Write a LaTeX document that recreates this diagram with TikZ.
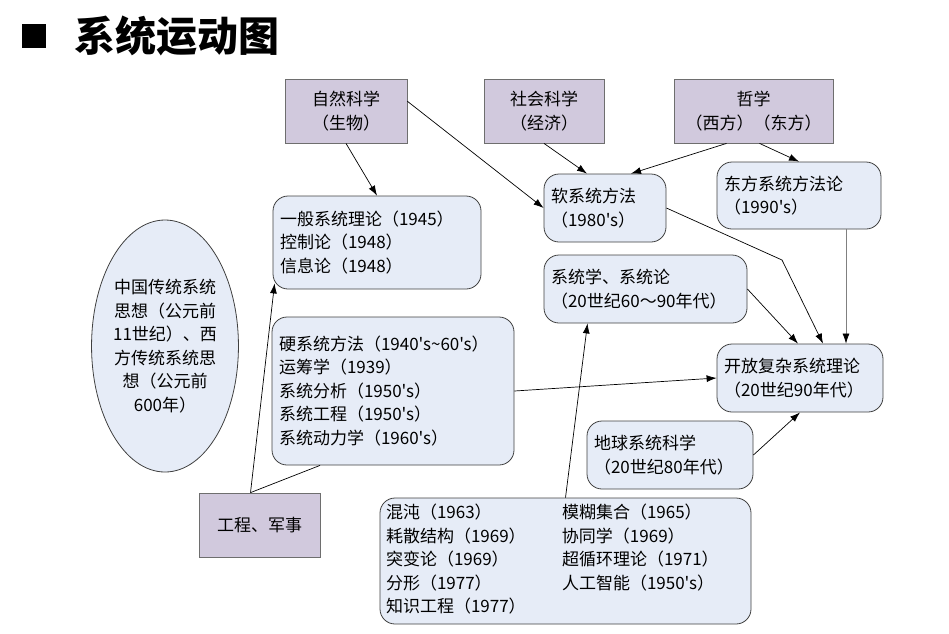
\documentclass[tikz,border=0pt]{standalone}
\usepackage{fontspec}
\newfontfamily\cjk{Noto Sans CJK SC}
\usetikzlibrary{arrows.meta, shapes.geometric}
\definecolor{fieldfill}{RGB}{209,201,221}
\definecolor{fieldline}{RGB}{110,110,110}
\definecolor{theoryfill}{RGB}{230,236,247}
\definecolor{theoryline}{RGB}{64,64,64}

\begin{document}
\begin{tikzpicture}[
    x=1pt, y=-1pt,
    base/.style = {rectangle, draw=theoryline, line width=0.8pt, inner sep=0pt,
font={\cjk\fontsize{17}{23.5}\selectfont}},
    field/.style = {base, draw=fieldline, fill=fieldfill,
minimum height=64pt, align=center},
    theory/.style = {base, rounded corners=15pt, fill=theoryfill,
inner xsep=7pt, align=left},
    link/.style = {-{Latex[length=10pt,width=7pt,color=black]}, line width=0.7pt}
]
  \useasboundingbox (0,0) rectangle (949,633);

  % title
  \node (mark) [fill=black, minimum size=24pt, inner sep=0pt] at (34,36) {};
  \node (title) [font={\cjk\bfseries\fontsize{41}{42}\selectfont}] at (177,36) {系统运动图};

  % sources
  \node (natsci) [field, minimum width=122pt] at (346,111) {自然科学\\（生物）};
  \node (socsci) [field, minimum width=120pt] at (544,111) {社会科学\\（经济）};
  \node (philo)  [field, minimum width=159pt] at (753.5,111) {哲学\\（西方）（东方）};
  \node (military) [field, minimum width=121pt] at (259.5,525) {工程、军事};

  % theories
  \node (soft) [theory, text width=108pt, minimum height=68pt] at (605,208) {软系统方法\\（1980's）};
  \node (eastern) [theory, text width=150pt, minimum height=67pt] at (799,195.5) {东方系统方法论\\（1990's）};
  \node (general) [theory, text width=194pt, minimum height=93pt] at (377,242.5)
    {一般系统理论（1945）\\控制论（1948）\\信息论（1948）};
  \node (systemics) [theory, text width=189pt, minimum height=68pt] at (645.5,289)
    {系统学、系统论\\（20世纪60～90年代）};
  \node (open) [theory, text width=152pt, minimum height=68pt] at (800,378)
    {开放复杂系统理论\\（20世纪90年代）};
  \node (hard) [theory, text width=228pt, minimum height=148pt] at (393,391)
    {硬系统方法（1940's\textasciitilde60's）\\运筹学（1939）\\系统分析（1950's）\\系统工程（1950's）\\系统动力学（1960's）};
  \node (earth) [theory, text width=152pt, minimum height=68pt] at (670,455)
    {地球系统科学\\（20世纪80年代）};
  \node (chaos) [theory, inner xsep=6pt, text width=359pt, minimum height=126pt] at (565.5,561)
    {\begin{tabular}{@{}p{176pt}@{}l@{}}
      混沌（1963） & 模糊集合（1965）\\
      耗散结构（1969） & 协同学（1969）\\
      突变论（1969） & 超循环理论（1971）\\
      分形（1977） & 人工智能（1950's）\\
      知识工程（1977） & \\
    \end{tabular}};

  \node (tradition) [base, ellipse, fill=theoryfill, minimum width=146pt, minimum height=252pt,
    align=center] at (165,346)
    {中国传统系统\\思想（公元前\\11世纪）、西\\方传统系统思\\想（公元前\\600年）};

  % links
  \draw[link] (natsci.south) -- (general.north);
  \draw[link] (natsci.9) -- (soft.west);
  \draw[link] (socsci.south) -- ([xshift=-18pt]soft.north);
  \draw[link] ([xshift=-27pt]philo.south) -- ([xshift=26pt]soft.north);
  \draw[link] ([xshift=6pt]philo.south) -- (eastern.north);
  \coordinate (bend) at (782,260);
  \draw[link] (soft.east) -- (bend) -- ([xshift=23pt]open.north);
  \draw[link] (systemics.east) -- ([xshift=-2pt]open.north);
  \draw[link, draw=gray] ([xshift=47pt]eastern.south) -- ([xshift=46pt]open.north);
  \draw[link] (hard.east) -- (open.west);
  \draw[link] (earth.east) -- (open.south);
  \draw[link] (chaos.north) -- ([xshift=-58pt]systemics.south);
  \draw[link] ([xshift=-9pt]military.north) -- ([xshift=2pt,yshift=6pt]general.south west);
  \draw[line width=0.7pt] ([xshift=-9pt]military.north) -- ([xshift=-73pt]hard.south);

\end{tikzpicture}
\end{document}
